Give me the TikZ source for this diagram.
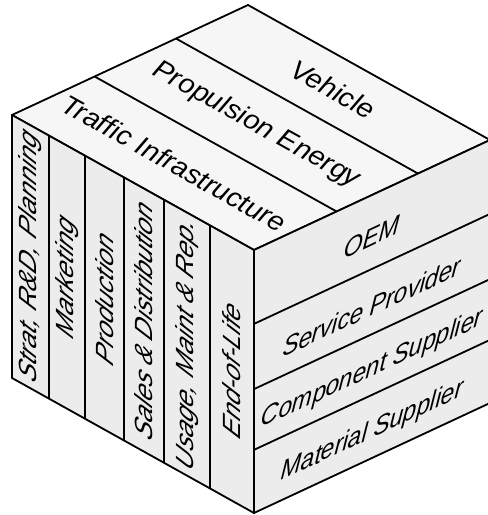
\documentclass[tikz,border=0pt]{standalone}
\usepackage{fontspec}
\setmainfont{Liberation Sans}
\usepackage{tikz}
\usetikzlibrary{calc}
\tikzset{
  every face/.style={draw,line width=1.8pt,line join=round},
  every divider/.style={draw,line width=1.8pt},
  top label/.style={cm={0.92,-0.513,0.487,0.873,(0,0)}},
  left label/.style={cm={0,1,-0.92,0.513,(0,0)}},
  right label/.style={yshift=-5pt,cm={0.897,0.418,0.1,1,(0,0)}},
  every node/.style={font=\fontsize{27}{30}\selectfont\itshape,inner sep=0pt},
}
\colorlet{topface}{gray!7}
\colorlet{sideface}{gray!15}

\begin{document}
\begin{tikzpicture}[x=1pt,y=1pt]
\useasboundingbox (0,0) rectangle (488,515);
\coordinate (L) at (12,400);
\coordinate (F) at (254,265);
\coordinate (B) at (248,510);
\coordinate (R) at (490,375);
\coordinate (Lb) at (12,137);
\coordinate (Fb) at (254,2);
\coordinate (Rb) at (490,112);
% the three faces
\draw[every face,fill=topface] (L) -- (F) -- (R) -- (B) -- cycle;
\draw[every face,fill=sideface] (L) -- (F) -- (Fb) -- (Lb) -- cycle;
\draw[every face,fill=sideface] (F) -- (R) -- (Rb) -- (Fb) -- cycle;
% top face
\foreach \t in {0.35,0.695}
  \draw[every divider] ($(L)!\t!(B)$) -- ($(F)!\t!(R)$);
\foreach[count=\k] \m/\txt in {0.175/Traffic Infrastructure,0.5225/Propulsion Energy,0.8475/Vehicle}
  \node[top label] (area\k) at ($($(L)!\m!(B)$)!0.5!($(F)!\m!(R)$)$) {\txt};
% left face
\foreach \t in {0.153,0.302,0.463,0.628,0.818}
  \draw[every divider] ($(L)!\t!(F)$) -- ($(Lb)!\t!(Fb)$);
\foreach[count=\k] \m/\txt in {
  0.0765/{Strat, R\&D, Planning},
  0.2275/Marketing,
  0.3825/Production,
  0.5455/Sales \& Distribution,
  0.723/{Usage, Maint \& Rep.},
  0.909/End-of-Life}
{
  \node[left label] (phase\k) at ($($(L)!\m!(F)$)!0.5!($(Lb)!\m!(Fb)$)$) {\txt};
}
% right face
\foreach \s in {0.281,0.529,0.760}
  \draw[every divider] ($(F)!\s!(Fb)$) -- ($(R)!\s!(Rb)$);
\foreach[count=\k] \m/\txt in {0.1405/OEM,0.405/Service Provider,0.6445/Component Supplier,0.88/Material Supplier}
  \node[right label] (actor\k) at ($($(F)!\m!(Fb)$)!0.5!($(R)!\m!(Rb)$)$) {\txt};
\end{tikzpicture}
\end{document}
